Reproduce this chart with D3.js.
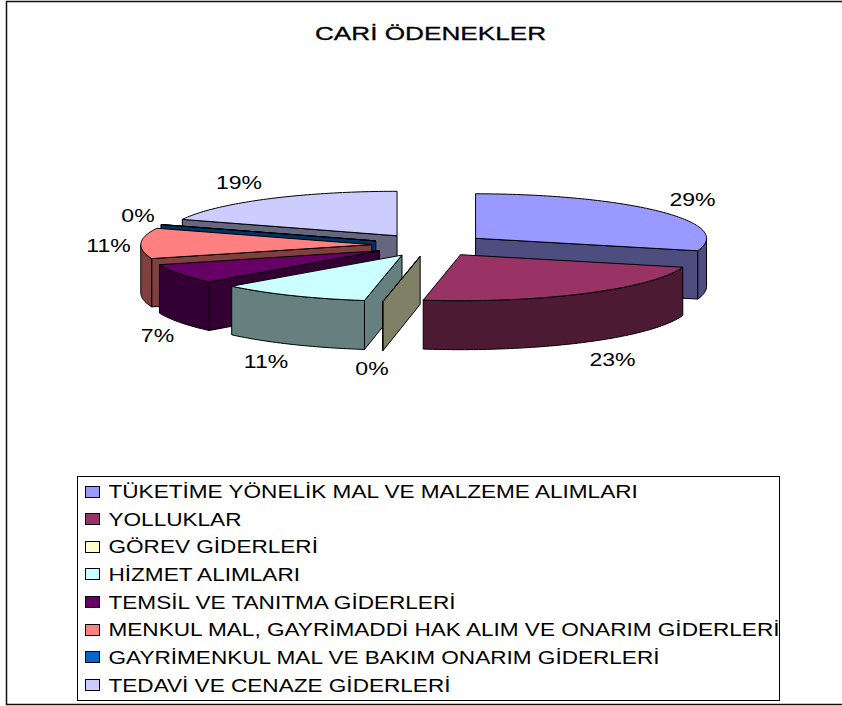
<!DOCTYPE html>
<html><head><meta charset="utf-8">
<script src="https://cdn.jsdelivr.net/npm/d3@7/dist/d3.min.js"></script>
<style>html,body{margin:0;padding:0;background:#fff}svg{display:block}text{font-family:"Liberation Sans",Arial,sans-serif;fill:#000}</style>
</head><body><div id="c"></div>
<script>
const title = "CARİ ÖDENEKLER";
const categories = ["TÜKETİME YÖNELİK MAL VE MALZEME ALIMLARI","YOLLUKLAR","GÖREV GİDERLERİ","HİZMET ALIMLARI","TEMSİL VE TANITMA GİDERLERİ","MENKUL MAL, GAYRİMADDİ HAK ALIM VE ONARIM GİDERLERİ","GAYRİMENKUL MAL VE BAKIM ONARIM GİDERLERİ","TEDAVİ VE CENAZE GİDERLERİ"];
const values = [29.4, 23.2, 0.02, 10.6, 6.9, 10.9, 0.02, 19.0];
const colors = ["#9999FF","#993366","#FFFFCC","#CCFFFF","#660066","#FF8080","#0066CC","#CCCCFF"];
const drawOrder = [7,6,5,4,3,2,0,1];

const W=842,H=706;
const svg=d3.select("#c").append("svg").attr("width",W).attr("height",H);
svg.append("rect").attr("x",6.5).attr("y",1.5).attr("width",840).attr("height",703).attr("fill","#fff").attr("stroke","#111").attr("stroke-width",1.5);

function stext(x,y,str,size,sx,anchor){
  return svg.append("text").attr("transform",`translate(${x},${y}) scale(${sx},1)`).attr("font-size",size).attr("text-anchor",anchor||"start").text(str);
}
stext(430.5,40,title,19,1.377,"middle").attr("stroke","#000").attr("stroke-width",0.3);

// pie geometry
const cx=429.5, cy=245, rx=231, ryBack=44.5, ryFront=46, depth=48, explode=0.25;
const px=d3.scaleLinear().domain([-1,1]).range([-rx,rx]);
const py=d3.scaleLinear().domain([-1,0,1]).range([-ryBack,0,ryFront]);
const arcs=d3.pie().sort(null).value(d=>d)(values);
const upper=(t,r)=>[px(r*Math.sin(t)),py(-r*Math.cos(t))];
const lower=(t,r)=>{const p=upper(t,r);return [p[0],p[1]+depth*(1-0.02*Math.cos(t)*r)];};
const line=d3.line();
const samples=(a,b)=>{const n=Math.max(1,Math.ceil((b-a)/0.02));return d3.range(n+1).map(i=>a+(b-a)*i/n);};
const half=c=>{const k=d3.rgb(c);return d3.rgb(k.r/2,k.g/2,k.b/2).formatHex();};
const pieG=svg.append("g");
drawOrder.forEach(i=>{
  const d=arcs[i],a=d.startAngle,b=d.endAngle,mid=(a+b)/2;
  const g=pieG.append("g").attr("transform",`translate(${cx+px(explode*Math.sin(mid))},${cy+py(-explode*Math.cos(mid))})`)
    .attr("stroke","#000").attr("stroke-width",1).attr("stroke-linejoin","round");
  const wall=half(colors[i]);
  const radial=t=>line([upper(t,0),upper(t,1),lower(t,1),lower(t,0)])+"Z";
  if(Math.sin(a)<-1e-6) g.append("path").attr("d",radial(a)).attr("fill",wall);
  if(Math.sin(b)>1e-6) g.append("path").attr("d",radial(b)).attr("fill",wall);
  const r0=Math.max(a,Math.PI/2), r1=Math.min(b,Math.PI*1.5);
  if(r1>r0){
    const s=samples(r0,r1);
    g.append("path").attr("d",line([...s.map(t=>upper(t,1)),...s.slice().reverse().map(t=>lower(t,1))])+"Z").attr("fill",wall);
  }
  g.append("path").attr("d",line([upper(a,0),...samples(a,b).map(t=>upper(t,1))])+"Z").attr("fill",colors[i]);
});

const labelPos=[[692.5,206],[612.5,366],[372,375],[266,368],[157.5,342],[108.5,252],[138,222],[239,189]];
const pct=d3.format(".0%"),tot=d3.sum(values);
values.forEach((v,i)=>stext(labelPos[i][0],labelPos[i][1],pct(v/tot),18,1.28,"middle"));

svg.append("rect").attr("x",77.5).attr("y",476.5).attr("width",702).attr("height",224).attr("fill","#fff").attr("stroke","#000");
const ly=d3.scaleLinear().domain([0,7]).range([491.5,685]);
categories.forEach((c,i)=>{
  svg.append("rect").attr("x",85.5).attr("y",Math.round(ly(i))-5.5).attr("width",14).attr("height",11).attr("fill",colors[i]).attr("stroke","#000");
  stext(108.5,ly(i)+6.5,c,18,1.255);
});
</script></body></html>
